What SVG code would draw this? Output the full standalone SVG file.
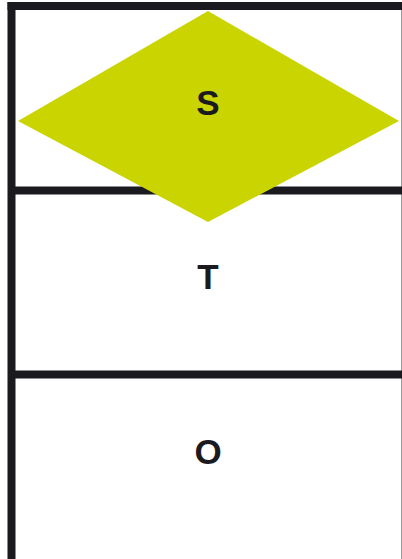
<svg xmlns="http://www.w3.org/2000/svg" width="402" height="559" viewBox="0 0 402 559">
<style>
.bar{stroke:#1b1a1f;stroke-width:8;fill:none}
.edge{stroke:#9a9a9a;stroke-width:1;fill:none}
.lbl{font-family:"Liberation Sans",Arial,sans-serif;font-weight:bold;font-size:35px;fill:#1b1a1f;text-anchor:middle}
</style>
<rect width="402" height="559" fill="#ffffff"/>
<g id="frame">
<line class="edge" x1="401.5" y1="10" x2="401.5" y2="559"/>
<line class="bar" x1="11.5" y1="2" x2="11.5" y2="559"/>
<line class="bar" x1="7.5" y1="6" x2="402" y2="6"/>
</g>
<g id="lane-T">
<line class="bar" x1="11.5" y1="190.5" x2="402" y2="190.5"/>
<text class="lbl" x="208" y="289">T</text>
</g>
<g id="lane-O">
<line class="bar" x1="11.5" y1="374.5" x2="402" y2="374.5"/>
<text class="lbl" x="208" y="464">O</text>
</g>
<g id="node-S">
<polygon points="208,11 399,121 208,222 18,121" fill="#cad400"/>
<text class="lbl" x="208" y="115">S</text>
</g>
<g id="connectors"></g>
</svg>
